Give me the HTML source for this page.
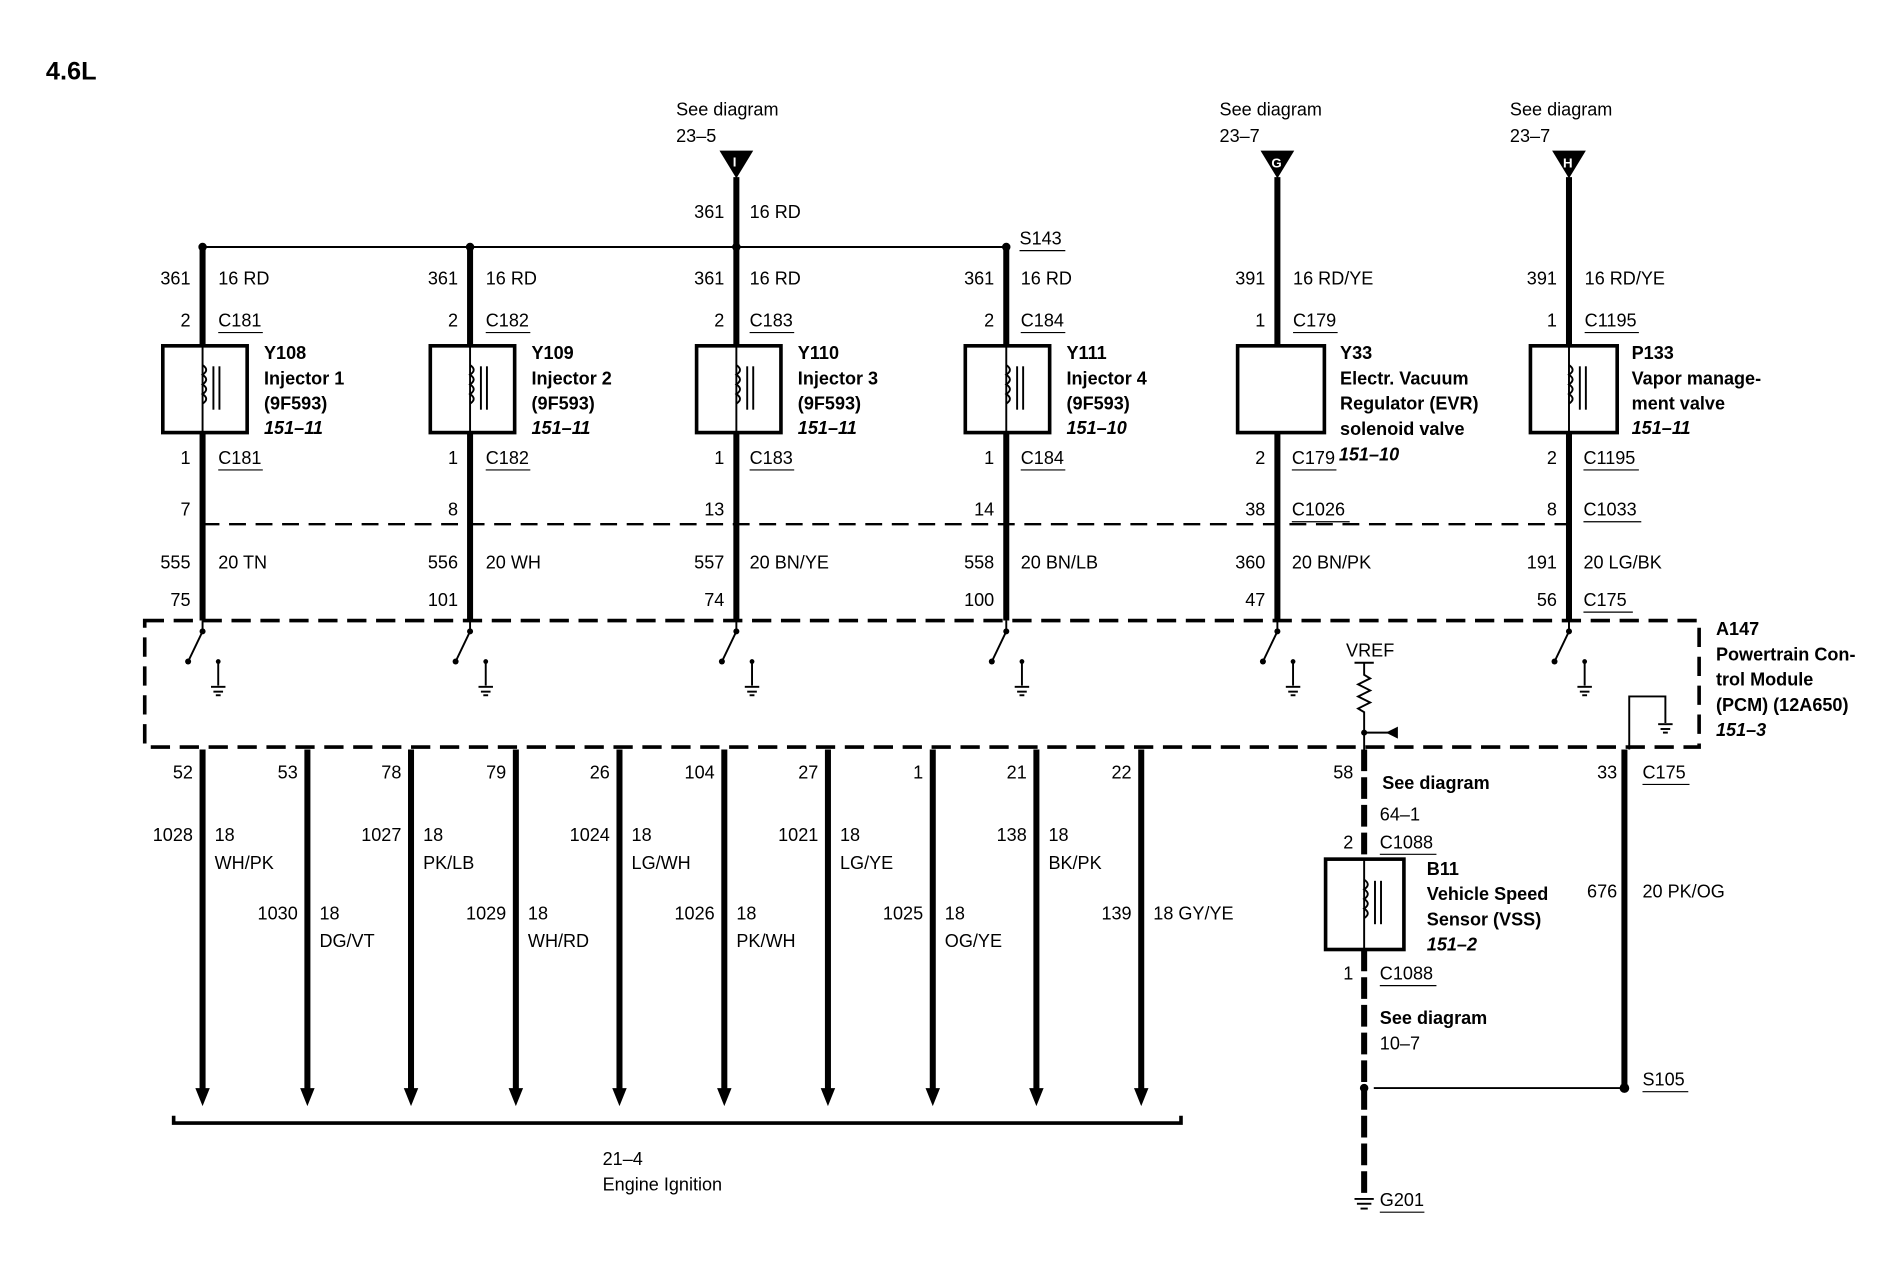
<!DOCTYPE html>
<html><head><meta charset="utf-8"><style>
html,body{margin:0;padding:0;background:#fff;}
svg{display:block;}
text{font-family:"Liberation Sans",sans-serif;font-size:15px;fill:#000;}
.b{font-weight:bold;}
.bi{font-weight:bold;font-style:italic;}
.r{text-anchor:end;}
.w{stroke:#000;stroke-width:5;fill:none;}
.t{stroke:#000;stroke-width:1.6;fill:none;}
.u{stroke:#000;stroke-width:1;}
.box{stroke:#000;stroke-width:3;fill:#fff;}
</style></head><body>
<svg width="1880" height="1264" viewBox="0 0 1560 1049" xmlns="http://www.w3.org/2000/svg">
<rect width="1560" height="1049" fill="#fff"/>
<text x="38" y="66" class="b" style="font-size:21px">4.6L</text>

<!-- top feed I -->
<text x="561" y="96">See diagram</text><text x="561" y="118">23–5</text>
<polygon points="597,125 625,125 611,148" fill="#000"/>
<text x="608" y="138" style="font-size:11px;fill:#fff" class="b">I</text>
<line class="w" x1="611" y1="147" x2="611" y2="205"/>
<text x="601" y="181" class="r">361</text><text x="622" y="181">16 RD</text>
<line class="t" x1="168" y1="205" x2="835" y2="205"/>
<text x="846" y="203">S143</text><line class="u" x1="846" y1="208" x2="884" y2="208"/>

<!-- G feed -->
<text x="1012" y="96">See diagram</text><text x="1012" y="118">23–7</text>
<polygon points="1046,125 1074,125 1060,148" fill="#000"/>
<text x="1055" y="139" style="font-size:11px;fill:#fff" class="b">G</text>
<!-- H feed -->
<text x="1253" y="96">See diagram</text><text x="1253" y="118">23–7</text>
<polygon points="1288,125 1316,125 1302,148" fill="#000"/>
<text x="1297" y="139" style="font-size:11px;fill:#fff" class="b">H</text>

<!-- injector columns -->
<g id="inj">
</g>
<!-- Column generic drawing: x=168 -->
<g>
<circle cx="168" cy="205" r="3.5"/>
<line class="w" x1="168" y1="205" x2="168" y2="287"/><line class="w" x1="168" y1="359" x2="168" y2="515"/>
<rect class="box" x="135" y="287" width="70" height="72"/>
<line class="t" x1="168" y1="287" x2="168" y2="359"/>
<path class="t" d="M168,303 q6,4 0,8 q6,4 0,8 q6,4 0,8 q6,4 0,8"/>
<line class="t" x1="177" y1="304" x2="177" y2="340"/><line class="t" x1="182" y1="304" x2="182" y2="340"/>
<text x="158" y="236" class="r">361</text><text x="181" y="236">16 RD</text>
<text x="158" y="271" class="r">2</text><text x="181" y="271">C181</text><line class="u" x1="181" y1="276" x2="218" y2="276"/>
<text x="219" y="298" class="b">Y108</text><text x="219" y="319" class="b">Injector 1</text><text x="219" y="340" class="b">(9F593)</text><text x="219" y="360" class="bi">151–11</text>
<text x="158" y="385" class="r">1</text><text x="181" y="385">C181</text><line class="u" x1="181" y1="390" x2="218" y2="390"/>
<text x="158" y="428" class="r">7</text>
<text x="158" y="472" class="r">555</text><text x="181" y="472">20 TN</text>
<text x="158" y="503" class="r">75</text>
</g>
<g>
<circle cx="390" cy="205" r="3.5"/>
<line class="w" x1="390" y1="205" x2="390" y2="287"/><line class="w" x1="390" y1="359" x2="390" y2="515"/>
<rect class="box" x="357" y="287" width="70" height="72"/>
<line class="t" x1="390" y1="287" x2="390" y2="359"/>
<path class="t" d="M390,303 q6,4 0,8 q6,4 0,8 q6,4 0,8 q6,4 0,8"/>
<line class="t" x1="399" y1="304" x2="399" y2="340"/><line class="t" x1="404" y1="304" x2="404" y2="340"/>
<text x="380" y="236" class="r">361</text><text x="403" y="236">16 RD</text>
<text x="380" y="271" class="r">2</text><text x="403" y="271">C182</text><line class="u" x1="403" y1="276" x2="440" y2="276"/>
<text x="441" y="298" class="b">Y109</text><text x="441" y="319" class="b">Injector 2</text><text x="441" y="340" class="b">(9F593)</text><text x="441" y="360" class="bi">151–11</text>
<text x="380" y="385" class="r">1</text><text x="403" y="385">C182</text><line class="u" x1="403" y1="390" x2="440" y2="390"/>
<text x="380" y="428" class="r">8</text>
<text x="380" y="472" class="r">556</text><text x="403" y="472">20 WH</text>
<text x="380" y="503" class="r">101</text>
</g>
<g>
<circle cx="611" cy="205" r="3.5"/>
<line class="w" x1="611" y1="205" x2="611" y2="287"/><line class="w" x1="611" y1="359" x2="611" y2="515"/>
<rect class="box" x="578" y="287" width="70" height="72"/>
<line class="t" x1="611" y1="287" x2="611" y2="359"/>
<path class="t" d="M611,303 q6,4 0,8 q6,4 0,8 q6,4 0,8 q6,4 0,8"/>
<line class="t" x1="620" y1="304" x2="620" y2="340"/><line class="t" x1="625" y1="304" x2="625" y2="340"/>
<text x="601" y="236" class="r">361</text><text x="622" y="236">16 RD</text>
<text x="601" y="271" class="r">2</text><text x="622" y="271">C183</text><line class="u" x1="622" y1="276" x2="659" y2="276"/>
<text x="662" y="298" class="b">Y110</text><text x="662" y="319" class="b">Injector 3</text><text x="662" y="340" class="b">(9F593)</text><text x="662" y="360" class="bi">151–11</text>
<text x="601" y="385" class="r">1</text><text x="622" y="385">C183</text><line class="u" x1="622" y1="390" x2="659" y2="390"/>
<text x="601" y="428" class="r">13</text>
<text x="601" y="472" class="r">557</text><text x="622" y="472">20 BN/YE</text>
<text x="601" y="503" class="r">74</text>
</g>
<g>
<circle cx="835" cy="205" r="3.5"/>
<line class="w" x1="835" y1="205" x2="835" y2="287"/><line class="w" x1="835" y1="359" x2="835" y2="515"/>
<rect class="box" x="801" y="287" width="70" height="72"/>
<line class="t" x1="835" y1="287" x2="835" y2="359"/>
<path class="t" d="M835,303 q6,4 0,8 q6,4 0,8 q6,4 0,8 q6,4 0,8"/>
<line class="t" x1="844" y1="304" x2="844" y2="340"/><line class="t" x1="849" y1="304" x2="849" y2="340"/>
<text x="825" y="236" class="r">361</text><text x="847" y="236">16 RD</text>
<text x="825" y="271" class="r">2</text><text x="847" y="271">C184</text><line class="u" x1="847" y1="276" x2="884" y2="276"/>
<text x="885" y="298" class="b">Y111</text><text x="885" y="319" class="b">Injector 4</text><text x="885" y="340" class="b">(9F593)</text><text x="885" y="360" class="bi">151–10</text>
<text x="825" y="385" class="r">1</text><text x="847" y="385">C184</text><line class="u" x1="847" y1="390" x2="884" y2="390"/>
<text x="825" y="428" class="r">14</text>
<text x="825" y="472" class="r">558</text><text x="847" y="472">20 BN/LB</text>
<text x="825" y="503" class="r">100</text>
</g>
<!-- EVR -->
<g>
<line class="w" x1="1060" y1="147" x2="1060" y2="287"/><line class="w" x1="1060" y1="359" x2="1060" y2="515"/>
<rect class="box" x="1027" y="287" width="72" height="72"/>
<text x="1050" y="236" class="r">391</text><text x="1073" y="236">16 RD/YE</text>
<text x="1050" y="271" class="r">1</text><text x="1073" y="271">C179</text><line class="u" x1="1073" y1="276" x2="1110" y2="276"/>
<text x="1112" y="298" class="b">Y33</text><text x="1112" y="319" class="b">Electr. Vacuum</text><text x="1112" y="340" class="b">Regulator (EVR)</text><text x="1112" y="361" class="b">solenoid valve</text>
<text x="1050" y="385" class="r">2</text><text x="1072" y="385">C179</text><line class="u" x1="1072" y1="390" x2="1109" y2="390"/><text x="1111" y="382" class="bi">151–10</text>
<text x="1050" y="428" class="r">38</text><text x="1072" y="428">C1026</text><line class="u" x1="1072" y1="433" x2="1120" y2="433"/>
<text x="1050" y="472" class="r">360</text><text x="1072" y="472">20 BN/PK</text>
<text x="1050" y="503" class="r">47</text>
</g>
<!-- P133 -->
<g>
<line class="w" x1="1302" y1="147" x2="1302" y2="287"/><line class="w" x1="1302" y1="359" x2="1302" y2="515"/>
<rect class="box" x="1270" y="287" width="72" height="72"/>
<line class="t" x1="1302" y1="287" x2="1302" y2="359"/>
<path class="t" d="M1302,303 q6,4 0,8 q6,4 0,8 q6,4 0,8 q6,4 0,8"/>
<line class="t" x1="1311" y1="304" x2="1311" y2="340"/><line class="t" x1="1316" y1="304" x2="1316" y2="340"/>
<text x="1292" y="236" class="r">391</text><text x="1315" y="236">16 RD/YE</text>
<text x="1292" y="271" class="r">1</text><text x="1315" y="271">C1195</text><line class="u" x1="1315" y1="276" x2="1360" y2="276"/>
<text x="1354" y="298" class="b">P133</text><text x="1354" y="319" class="b">Vapor manage-</text><text x="1354" y="340" class="b">ment valve</text><text x="1354" y="360" class="bi">151–11</text>
<text x="1292" y="385" class="r">2</text><text x="1314" y="385">C1195</text><line class="u" x1="1314" y1="390" x2="1360" y2="390"/>
<text x="1292" y="428" class="r">8</text><text x="1314" y="428">C1033</text><line class="u" x1="1314" y1="433" x2="1362" y2="433"/>
<text x="1292" y="472" class="r">191</text><text x="1314" y="472">20 LG/BK</text>
<text x="1292" y="503" class="r">56</text><text x="1314" y="503">C175</text><line class="u" x1="1314" y1="508" x2="1355" y2="508"/>
</g>
<line x1="168" y1="435" x2="1302" y2="435" stroke="#000" stroke-width="2" stroke-dasharray="14,8"/>

<!-- PCM box -->
<rect x="120" y="515" width="1290" height="105" fill="none" stroke="#000" stroke-width="3" stroke-dasharray="16,8"/>
<text x="1424" y="527" class="b">A147</text><text x="1424" y="548" class="b">Powertrain Con-</text><text x="1424" y="569" class="b">trol Module</text><text x="1424" y="590" class="b">(PCM) (12A650)</text><text x="1424" y="611" class="bi">151–3</text>

<!-- switches & grounds -->
<g id="sw">
<g transform="translate(0,0)"><line class="t" x1="168" y1="515" x2="168" y2="524"/><circle cx="168" cy="524" r="2.5"/><line class="t" x1="168" y1="524" x2="156" y2="549"/><circle cx="156" cy="549" r="2.5"/><line class="t" x1="181" y1="549" x2="181" y2="569"/><circle cx="181" cy="549" r="2"/><line class="t" x1="175" y1="570" x2="187" y2="570"/><line class="t" x1="177" y1="574" x2="185" y2="574"/><line class="t" x1="179" y1="577" x2="183" y2="577"/></g>
</g>
<g transform="translate(222,0)"><line class="t" x1="168" y1="515" x2="168" y2="524"/><circle cx="168" cy="524" r="2.5"/><line class="t" x1="168" y1="524" x2="156" y2="549"/><circle cx="156" cy="549" r="2.5"/><line class="t" x1="181" y1="549" x2="181" y2="569"/><circle cx="181" cy="549" r="2"/><line class="t" x1="175" y1="570" x2="187" y2="570"/><line class="t" x1="177" y1="574" x2="185" y2="574"/><line class="t" x1="179" y1="577" x2="183" y2="577"/></g>
<g transform="translate(443,0)"><line class="t" x1="168" y1="515" x2="168" y2="524"/><circle cx="168" cy="524" r="2.5"/><line class="t" x1="168" y1="524" x2="156" y2="549"/><circle cx="156" cy="549" r="2.5"/><line class="t" x1="181" y1="549" x2="181" y2="569"/><circle cx="181" cy="549" r="2"/><line class="t" x1="175" y1="570" x2="187" y2="570"/><line class="t" x1="177" y1="574" x2="185" y2="574"/><line class="t" x1="179" y1="577" x2="183" y2="577"/></g>
<g transform="translate(667,0)"><line class="t" x1="168" y1="515" x2="168" y2="524"/><circle cx="168" cy="524" r="2.5"/><line class="t" x1="168" y1="524" x2="156" y2="549"/><circle cx="156" cy="549" r="2.5"/><line class="t" x1="181" y1="549" x2="181" y2="569"/><circle cx="181" cy="549" r="2"/><line class="t" x1="175" y1="570" x2="187" y2="570"/><line class="t" x1="177" y1="574" x2="185" y2="574"/><line class="t" x1="179" y1="577" x2="183" y2="577"/></g>
<g transform="translate(892,0)"><line class="t" x1="168" y1="515" x2="168" y2="524"/><circle cx="168" cy="524" r="2.5"/><line class="t" x1="168" y1="524" x2="156" y2="549"/><circle cx="156" cy="549" r="2.5"/><line class="t" x1="181" y1="549" x2="181" y2="569"/><circle cx="181" cy="549" r="2"/><line class="t" x1="175" y1="570" x2="187" y2="570"/><line class="t" x1="177" y1="574" x2="185" y2="574"/><line class="t" x1="179" y1="577" x2="183" y2="577"/></g>
<g transform="translate(1134,0)"><line class="t" x1="168" y1="515" x2="168" y2="524"/><circle cx="168" cy="524" r="2.5"/><line class="t" x1="168" y1="524" x2="156" y2="549"/><circle cx="156" cy="549" r="2.5"/><line class="t" x1="181" y1="549" x2="181" y2="569"/><circle cx="181" cy="549" r="2"/><line class="t" x1="175" y1="570" x2="187" y2="570"/><line class="t" x1="177" y1="574" x2="185" y2="574"/><line class="t" x1="179" y1="577" x2="183" y2="577"/></g>

<!-- VREF -->
<text x="1117" y="545">VREF</text>
<line class="t" x1="1124" y1="550" x2="1140" y2="550"/>
<path class="t" d="M1132,550 L1132,560 l5,3 l-10,5 l10,5 l-10,5 l10,5 l-10,5 l5,3 L1132,622"/>
<circle cx="1132" cy="608" r="2.5"/>
<line class="t" x1="1132" y1="608" x2="1152" y2="608"/>
<polygon points="1150,608 1160,603 1160,613" fill="#000"/>
<!-- small loop ground -->
<polyline class="t" points="1352,622 1352,578 1382,578 1382,600"/>
<line class="t" x1="1376" y1="601" x2="1388" y2="601"/><line class="t" x1="1378" y1="605" x2="1386" y2="605"/><line class="t" x1="1380" y1="608" x2="1384" y2="608"/>

<!-- bottom wires -->
<g>
<line class="w" x1="168" y1="622" x2="168" y2="905"/><polygon points="162,903 174,903 168,918" fill="#000"/>
<line class="w" x1="255" y1="622" x2="255" y2="905"/><polygon points="249,903 261,903 255,918" fill="#000"/>
<line class="w" x1="341" y1="622" x2="341" y2="905"/><polygon points="335,903 347,903 341,918" fill="#000"/>
<line class="w" x1="428" y1="622" x2="428" y2="905"/><polygon points="422,903 434,903 428,918" fill="#000"/>
<line class="w" x1="514" y1="622" x2="514" y2="905"/><polygon points="508,903 520,903 514,918" fill="#000"/>
<line class="w" x1="601" y1="622" x2="601" y2="905"/><polygon points="595,903 607,903 601,918" fill="#000"/>
<line class="w" x1="687" y1="622" x2="687" y2="905"/><polygon points="681,903 693,903 687,918" fill="#000"/>
<line class="w" x1="774" y1="622" x2="774" y2="905"/><polygon points="768,903 780,903 774,918" fill="#000"/>
<line class="w" x1="860" y1="622" x2="860" y2="905"/><polygon points="854,903 866,903 860,918" fill="#000"/>
<line class="w" x1="947" y1="622" x2="947" y2="905"/><polygon points="941,903 953,903 947,918" fill="#000"/>
</g>
<text x="160" y="646" class="r">52</text><text x="247" y="646" class="r">53</text><text x="333" y="646" class="r">78</text><text x="420" y="646" class="r">79</text><text x="506" y="646" class="r">26</text><text x="593" y="646" class="r">104</text><text x="679" y="646" class="r">27</text><text x="766" y="646" class="r">1</text><text x="852" y="646" class="r">21</text><text x="939" y="646" class="r">22</text>
<text x="160" y="698" class="r">1028</text><text x="178" y="698">18</text><text x="178" y="721">WH/PK</text>
<text x="333" y="698" class="r">1027</text><text x="351" y="698">18</text><text x="351" y="721">PK/LB</text>
<text x="506" y="698" class="r">1024</text><text x="524" y="698">18</text><text x="524" y="721">LG/WH</text>
<text x="679" y="698" class="r">1021</text><text x="697" y="698">18</text><text x="697" y="721">LG/YE</text>
<text x="852" y="698" class="r">138</text><text x="870" y="698">18</text><text x="870" y="721">BK/PK</text>
<text x="247" y="763" class="r">1030</text><text x="265" y="763">18</text><text x="265" y="786">DG/VT</text>
<text x="420" y="763" class="r">1029</text><text x="438" y="763">18</text><text x="438" y="786">WH/RD</text>
<text x="593" y="763" class="r">1026</text><text x="611" y="763">18</text><text x="611" y="786">PK/WH</text>
<text x="766" y="763" class="r">1025</text><text x="784" y="763">18</text><text x="784" y="786">OG/YE</text>
<text x="939" y="763" class="r">139</text><text x="957" y="763">18 GY/YE</text>
<path d="M144,926 L144,932 L980,932 L980,926" fill="none" stroke="#000" stroke-width="3"/>
<text x="500" y="967">21–4</text><text x="500" y="988">Engine Ignition</text>

<!-- VSS column -->
<line x1="1132" y1="622" x2="1132" y2="713" stroke="#000" stroke-width="5" stroke-dasharray="18,5"/>
<line x1="1132" y1="788" x2="1132" y2="992" stroke="#000" stroke-width="5" stroke-dasharray="18,5"/>
<rect class="box" x="1100" y="713" width="65" height="75"/>
<line class="t" x1="1132" y1="713" x2="1132" y2="788"/>
<path class="t" d="M1132,730 q6,4 0,8 q6,4 0,8 q6,4 0,8 q6,4 0,8"/>
<line class="t" x1="1141" y1="731" x2="1141" y2="767"/><line class="t" x1="1146" y1="731" x2="1146" y2="767"/>
<text x="1123" y="646" class="r">58</text>
<text x="1147" y="655" class="b">See diagram</text><text x="1145" y="681">64–1</text>
<text x="1123" y="704" class="r">2</text><text x="1145" y="704">C1088</text><line class="u" x1="1145" y1="709" x2="1192" y2="709"/>
<text x="1184" y="726" class="b">B11</text><text x="1184" y="747" class="b">Vehicle Speed</text><text x="1184" y="768" class="b">Sensor (VSS)</text><text x="1184" y="789" class="bi">151–2</text>
<text x="1123" y="813" class="r">1</text><text x="1145" y="813">C1088</text><line class="u" x1="1145" y1="818" x2="1192" y2="818"/>
<text x="1145" y="850" class="b">See diagram</text><text x="1145" y="871">10–7</text>
<circle cx="1132" cy="903" r="3.5"/><line class="t" x1="1140" y1="903" x2="1345" y2="903"/>
<line class="t" x1="1124" y1="995" x2="1140" y2="995"/><line class="t" x1="1126" y1="999" x2="1138" y2="999"/><line class="t" x1="1129" y1="1003" x2="1135" y2="1003"/>
<text x="1145" y="1001">G201</text><line class="u" x1="1145" y1="1006" x2="1182" y2="1006"/>

<!-- 676 column -->
<line class="w" x1="1348" y1="622" x2="1348" y2="903"/><circle cx="1348" cy="903" r="4"/>
<text x="1342" y="646" class="r">33</text><text x="1363" y="646">C175</text><line class="u" x1="1363" y1="651" x2="1402" y2="651"/>
<text x="1342" y="745" class="r">676</text><text x="1363" y="745">20 PK/OG</text>
<text x="1363" y="901">S105</text><line class="u" x1="1363" y1="906" x2="1401" y2="906"/>
</svg>
</body></html>
